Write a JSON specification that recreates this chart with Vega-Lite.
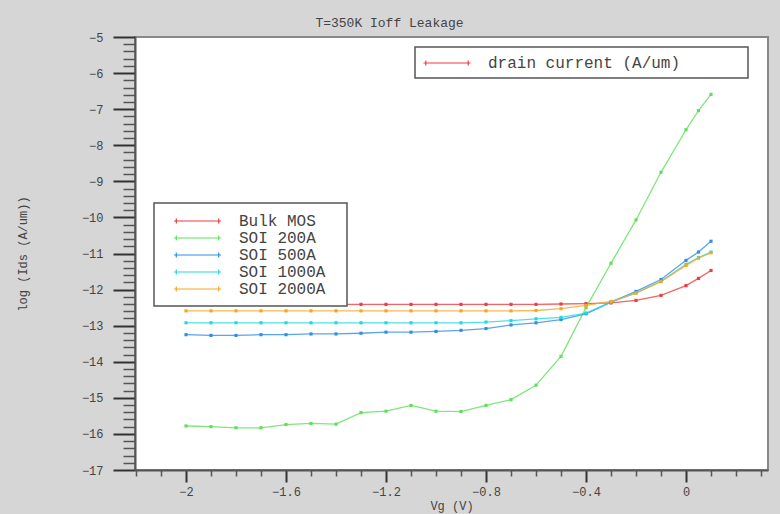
{
  "$schema": "https://vega.github.io/schema/vega-lite/v6.json",
  "width": 633,
  "height": 433,
  "autosize": "none",
  "padding": {"left": 135, "top": 37, "right": 12, "bottom": 44},
  "background": "#d6d6d6",
  "title": {"text": "T=350K Ioff Leakage", "font": "Liberation Mono", "fontSize": 13, "fontWeight": "normal", "color": "#444444", "anchor": "middle", "frame": "group", "dx": -62, "dy": 19, "baseline": "alphabetic", "offset": 10},
  "datasets": {
    "curves": [
      {"Vg": -2.0, "logIds": -12.41, "device": "Bulk MOS"},
      {"Vg": -1.9, "logIds": -12.41, "device": "Bulk MOS"},
      {"Vg": -1.8, "logIds": -12.41, "device": "Bulk MOS"},
      {"Vg": -1.7, "logIds": -12.41, "device": "Bulk MOS"},
      {"Vg": -1.6, "logIds": -12.41, "device": "Bulk MOS"},
      {"Vg": -1.5, "logIds": -12.41, "device": "Bulk MOS"},
      {"Vg": -1.4, "logIds": -12.41, "device": "Bulk MOS"},
      {"Vg": -1.3, "logIds": -12.41, "device": "Bulk MOS"},
      {"Vg": -1.2, "logIds": -12.41, "device": "Bulk MOS"},
      {"Vg": -1.1, "logIds": -12.41, "device": "Bulk MOS"},
      {"Vg": -1.0, "logIds": -12.41, "device": "Bulk MOS"},
      {"Vg": -0.9, "logIds": -12.41, "device": "Bulk MOS"},
      {"Vg": -0.8, "logIds": -12.41, "device": "Bulk MOS"},
      {"Vg": -0.7, "logIds": -12.41, "device": "Bulk MOS"},
      {"Vg": -0.6, "logIds": -12.41, "device": "Bulk MOS"},
      {"Vg": -0.5, "logIds": -12.40, "device": "Bulk MOS"},
      {"Vg": -0.4, "logIds": -12.39, "device": "Bulk MOS"},
      {"Vg": -0.3, "logIds": -12.37, "device": "Bulk MOS"},
      {"Vg": -0.2, "logIds": -12.30, "device": "Bulk MOS"},
      {"Vg": -0.1, "logIds": -12.16, "device": "Bulk MOS"},
      {"Vg": 0.0, "logIds": -11.89, "device": "Bulk MOS"},
      {"Vg": 0.05, "logIds": -11.69, "device": "Bulk MOS"},
      {"Vg": 0.1, "logIds": -11.47, "device": "Bulk MOS"},
      {"Vg": -2.0, "logIds": -15.78, "device": "SOI 200A"},
      {"Vg": -1.9, "logIds": -15.80, "device": "SOI 200A"},
      {"Vg": -1.8, "logIds": -15.83, "device": "SOI 200A"},
      {"Vg": -1.7, "logIds": -15.83, "device": "SOI 200A"},
      {"Vg": -1.6, "logIds": -15.74, "device": "SOI 200A"},
      {"Vg": -1.5, "logIds": -15.71, "device": "SOI 200A"},
      {"Vg": -1.4, "logIds": -15.73, "device": "SOI 200A"},
      {"Vg": -1.3, "logIds": -15.41, "device": "SOI 200A"},
      {"Vg": -1.2, "logIds": -15.37, "device": "SOI 200A"},
      {"Vg": -1.1, "logIds": -15.21, "device": "SOI 200A"},
      {"Vg": -1.0, "logIds": -15.37, "device": "SOI 200A"},
      {"Vg": -0.9, "logIds": -15.38, "device": "SOI 200A"},
      {"Vg": -0.8, "logIds": -15.21, "device": "SOI 200A"},
      {"Vg": -0.7, "logIds": -15.05, "device": "SOI 200A"},
      {"Vg": -0.6, "logIds": -14.65, "device": "SOI 200A"},
      {"Vg": -0.5, "logIds": -13.85, "device": "SOI 200A"},
      {"Vg": -0.4, "logIds": -12.50, "device": "SOI 200A"},
      {"Vg": -0.3, "logIds": -11.27, "device": "SOI 200A"},
      {"Vg": -0.2, "logIds": -10.07, "device": "SOI 200A"},
      {"Vg": -0.1, "logIds": -8.75, "device": "SOI 200A"},
      {"Vg": 0.0, "logIds": -7.57, "device": "SOI 200A"},
      {"Vg": 0.05, "logIds": -7.04, "device": "SOI 200A"},
      {"Vg": 0.1, "logIds": -6.59, "device": "SOI 200A"},
      {"Vg": -2.0, "logIds": -13.25, "device": "SOI 500A"},
      {"Vg": -1.9, "logIds": -13.27, "device": "SOI 500A"},
      {"Vg": -1.8, "logIds": -13.27, "device": "SOI 500A"},
      {"Vg": -1.7, "logIds": -13.25, "device": "SOI 500A"},
      {"Vg": -1.6, "logIds": -13.25, "device": "SOI 500A"},
      {"Vg": -1.5, "logIds": -13.23, "device": "SOI 500A"},
      {"Vg": -1.4, "logIds": -13.23, "device": "SOI 500A"},
      {"Vg": -1.3, "logIds": -13.21, "device": "SOI 500A"},
      {"Vg": -1.2, "logIds": -13.18, "device": "SOI 500A"},
      {"Vg": -1.1, "logIds": -13.18, "device": "SOI 500A"},
      {"Vg": -1.0, "logIds": -13.16, "device": "SOI 500A"},
      {"Vg": -0.9, "logIds": -13.13, "device": "SOI 500A"},
      {"Vg": -0.8, "logIds": -13.08, "device": "SOI 500A"},
      {"Vg": -0.7, "logIds": -12.98, "device": "SOI 500A"},
      {"Vg": -0.6, "logIds": -12.92, "device": "SOI 500A"},
      {"Vg": -0.5, "logIds": -12.83, "device": "SOI 500A"},
      {"Vg": -0.4, "logIds": -12.67, "device": "SOI 500A"},
      {"Vg": -0.3, "logIds": -12.35, "device": "SOI 500A"},
      {"Vg": -0.2, "logIds": -12.05, "device": "SOI 500A"},
      {"Vg": -0.1, "logIds": -11.72, "device": "SOI 500A"},
      {"Vg": 0.0, "logIds": -11.19, "device": "SOI 500A"},
      {"Vg": 0.05, "logIds": -10.96, "device": "SOI 500A"},
      {"Vg": 0.1, "logIds": -10.66, "device": "SOI 500A"},
      {"Vg": -2.0, "logIds": -12.92, "device": "SOI 1000A"},
      {"Vg": -1.9, "logIds": -12.92, "device": "SOI 1000A"},
      {"Vg": -1.8, "logIds": -12.92, "device": "SOI 1000A"},
      {"Vg": -1.7, "logIds": -12.92, "device": "SOI 1000A"},
      {"Vg": -1.6, "logIds": -12.92, "device": "SOI 1000A"},
      {"Vg": -1.5, "logIds": -12.92, "device": "SOI 1000A"},
      {"Vg": -1.4, "logIds": -12.92, "device": "SOI 1000A"},
      {"Vg": -1.3, "logIds": -12.92, "device": "SOI 1000A"},
      {"Vg": -1.2, "logIds": -12.92, "device": "SOI 1000A"},
      {"Vg": -1.1, "logIds": -12.92, "device": "SOI 1000A"},
      {"Vg": -1.0, "logIds": -12.92, "device": "SOI 1000A"},
      {"Vg": -0.9, "logIds": -12.92, "device": "SOI 1000A"},
      {"Vg": -0.8, "logIds": -12.90, "device": "SOI 1000A"},
      {"Vg": -0.7, "logIds": -12.86, "device": "SOI 1000A"},
      {"Vg": -0.6, "logIds": -12.81, "device": "SOI 1000A"},
      {"Vg": -0.5, "logIds": -12.77, "device": "SOI 1000A"},
      {"Vg": -0.4, "logIds": -12.65, "device": "SOI 1000A"},
      {"Vg": -0.3, "logIds": -12.35, "device": "SOI 1000A"},
      {"Vg": -0.2, "logIds": -12.09, "device": "SOI 1000A"},
      {"Vg": -0.1, "logIds": -11.77, "device": "SOI 1000A"},
      {"Vg": 0.0, "logIds": -11.30, "device": "SOI 1000A"},
      {"Vg": 0.05, "logIds": -11.11, "device": "SOI 1000A"},
      {"Vg": 0.1, "logIds": -10.96, "device": "SOI 1000A"},
      {"Vg": -2.0, "logIds": -12.59, "device": "SOI 2000A"},
      {"Vg": -1.9, "logIds": -12.59, "device": "SOI 2000A"},
      {"Vg": -1.8, "logIds": -12.59, "device": "SOI 2000A"},
      {"Vg": -1.7, "logIds": -12.59, "device": "SOI 2000A"},
      {"Vg": -1.6, "logIds": -12.59, "device": "SOI 2000A"},
      {"Vg": -1.5, "logIds": -12.59, "device": "SOI 2000A"},
      {"Vg": -1.4, "logIds": -12.59, "device": "SOI 2000A"},
      {"Vg": -1.3, "logIds": -12.59, "device": "SOI 2000A"},
      {"Vg": -1.2, "logIds": -12.59, "device": "SOI 2000A"},
      {"Vg": -1.1, "logIds": -12.59, "device": "SOI 2000A"},
      {"Vg": -1.0, "logIds": -12.59, "device": "SOI 2000A"},
      {"Vg": -0.9, "logIds": -12.59, "device": "SOI 2000A"},
      {"Vg": -0.8, "logIds": -12.59, "device": "SOI 2000A"},
      {"Vg": -0.7, "logIds": -12.59, "device": "SOI 2000A"},
      {"Vg": -0.6, "logIds": -12.58, "device": "SOI 2000A"},
      {"Vg": -0.5, "logIds": -12.53, "device": "SOI 2000A"},
      {"Vg": -0.4, "logIds": -12.44, "device": "SOI 2000A"},
      {"Vg": -0.3, "logIds": -12.33, "device": "SOI 2000A"},
      {"Vg": -0.2, "logIds": -12.10, "device": "SOI 2000A"},
      {"Vg": -0.1, "logIds": -11.78, "device": "SOI 2000A"},
      {"Vg": 0.0, "logIds": -11.33, "device": "SOI 2000A"},
      {"Vg": 0.05, "logIds": -11.13, "device": "SOI 2000A"},
      {"Vg": 0.1, "logIds": -10.98, "device": "SOI 2000A"}
    ],
    "legendrow": [
      {"Vg": -2.0, "logIds": -12.41, "quantity": "drain current (A/um)"}
    ]
  },
  "layer": [
    {
      "data": {"name": "curves"},
      "mark": {"type": "line", "strokeWidth": 1.3, "opacity": 0.8, "point": {"shape": "square", "size": 10, "filled": true}},
      "encoding": {
        "x": {
          "field": "Vg", "type": "quantitative",
          "scale": {"domain": [-2.204, 0.328], "nice": false, "zero": false},
          "axis": {"orient": "bottom", "values": [-2, -1.6, -1.2, -0.8, -0.4, 0], "format": "~g", "tickSize": 12, "tickWidth": 2, "tickColor": "#333333", "labelPadding": 4, "labelFontSize": 12, "domain": true, "domainColor": "#555555", "domainWidth": 2, "title": "Vg (V)", "titlePadding": 3}
        },
        "y": {
          "field": "logIds", "type": "quantitative",
          "scale": {"domain": [-17, -5], "nice": false, "zero": false},
          "axis": {"orient": "left", "values": [-17, -16, -15, -14, -13, -12, -11, -10, -9, -8, -7, -6, -5], "format": "~g", "tickSize": 22, "tickWidth": 2, "tickColor": "#333333", "labelPadding": 10, "labelFontSize": 12, "domain": true, "domainColor": "#555555", "domainWidth": 2, "title": "log (Ids (A/um))", "titlePadding": 52}
        },
        "color": {
          "field": "device", "type": "nominal",
          "scale": {"domain": ["Bulk MOS", "SOI 200A", "SOI 500A", "SOI 1000A", "SOI 2000A"], "range": ["#f03c3c", "#5fe05a", "#2f8fe8", "#22d8e0", "#f5a623"]},
          "legend": {"title": null, "orient": "none", "legendX": 19, "legendY": 166, "padding": 9, "strokeColor": "#555555", "fillColor": "#ffffff", "symbolType": "M-2.94,0H2.94M-2.65,-0.3V0.3M2.65,-0.3V0.3", "symbolSize": 256, "symbolStrokeWidth": 1.2, "symbolOpacity": 1, "symbolOffset": 25.5, "labelOffset": 32.5, "labelFontSize": 16, "labelColor": "#444444", "labelLimit": 400, "rowPadding": -2, "labelExpr": "datum.label + '\u2800'"}
        }
      }
    },
    {
      "data": {"name": "legendrow"},
      "mark": {"type": "line", "opacity": 0},
      "encoding": {
        "x": {
          "field": "Vg", "type": "quantitative",
          "axis": {"orient": "bottom", "values": [-2.2, -2.1, -1.9, -1.8, -1.7, -1.5, -1.4, -1.3, -1.1, -1.0, -0.9, -0.7, -0.6, -0.5, -0.3, -0.2, -0.1, 0.1, 0.2, 0.3], "labels": false, "domain": false, "tickSize": 6, "tickWidth": 1.5, "tickColor": "#555555", "title": null}
        },
        "y": {
          "field": "logIds", "type": "quantitative",
          "axis": {"orient": "left", "values": [-16.8, -16.6, -16.4, -16.2, -15.8, -15.6, -15.4, -15.2, -14.8, -14.6, -14.4, -14.2, -13.8, -13.6, -13.4, -13.2, -12.8, -12.6, -12.4, -12.2, -11.8, -11.6, -11.4, -11.2, -10.8, -10.6, -10.4, -10.2, -9.8, -9.6, -9.4, -9.2, -8.8, -8.6, -8.4, -8.2, -7.8, -7.6, -7.4, -7.2, -6.8, -6.6, -6.4, -6.2, -5.8, -5.6, -5.4, -5.2], "labels": false, "domain": false, "tickSize": 12, "tickWidth": 1.5, "tickColor": "#555555", "title": null}
        },
        "strokeDash": {
          "field": "quantity", "type": "nominal",
          "scale": {"range": [[1, 0]]},
          "legend": {"title": null, "orient": "none", "legendX": 280, "legendY": 10, "padding": 7, "strokeColor": "#555555", "fillColor": "#ffffff", "symbolType": "M-2.94,0H2.94M-2.65,-0.3V0.3M2.65,-0.3V0.3", "symbolSize": 256, "symbolStrokeColor": "#f03c3c", "symbolStrokeWidth": 1.2, "symbolOpacity": 1, "symbolOffset": 16, "labelOffset": 32, "labelFontSize": 16, "labelColor": "#444444", "labelLimit": 400, "labelExpr": "datum.label + '\u2800\u2800\u2800\u2800\u2800'"}
        }
      }
    }
  ],
  "resolve": {"axis": {"x": "independent", "y": "independent"}},
  "config": {
    "view": {"stroke": "#888888", "strokeWidth": 2, "fill": "#ffffff"},
    "axis": {"grid": false, "labelFont": "Liberation Mono", "titleFont": "Liberation Mono", "labelColor": "#444444", "titleColor": "#444444", "titleFontWeight": "normal", "titleFontSize": 12},
    "legend": {"labelFont": "Liberation Mono", "strokeWidth": 1.5, "cornerRadius": 0}
  }
}
